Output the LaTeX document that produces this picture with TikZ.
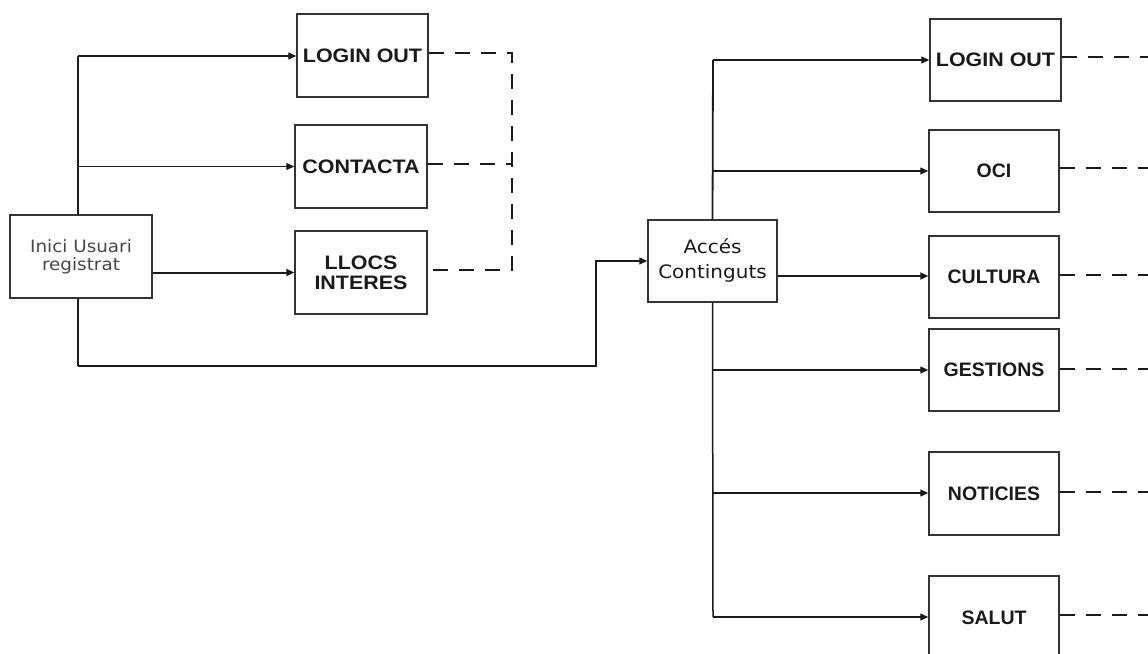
\documentclass[tikz,border=0pt]{standalone}
\usepackage{fontspec}
\usetikzlibrary{arrows.meta}
\newfontfamily\wideboxfont[FakeStretch=1.1]{Liberation Sans}
\newfontfamily\boxfont[FakeStretch=1.0]{Liberation Sans}
\newfontfamily\softfont[FakeStretch=1.08]{DejaVu Sans}
\newfontfamily\accfont[FakeStretch=1.08]{DejaVu Sans}
\definecolor{edge}{HTML}{333333}
\definecolor{ink}{HTML}{1A1A1A}
\tikzset{
  box/.style={draw=edge, line width=1.4pt, fill=white, inner sep=0pt, align=center,
    text=ink, font=\boxfont\bfseries\fontsize{19.5}{20}\selectfont},
  widebox/.style={box, font=\wideboxfont\bfseries\fontsize{19.5}{20}\selectfont},
  link/.style={draw=ink, line width=1.2pt, -{Triangle[length=8pt,width=7pt]}},
  thicklink/.style={link, line width=2pt},
  trunk/.style={draw=ink, line width=1.8pt},
  dashlink/.style={draw=ink, line width=1.2pt, dash pattern=on 15pt off 11pt},
}
\begin{document}
\begin{tikzpicture}[x=1pt,y=-1pt]
\useasboundingbox (0,0) rectangle (1148,653);
\clip (0,0) rectangle (1148,653);
% left group
\node[box, minimum width=142pt, minimum height=83pt, font=\softfont\fontsize{17}{18}\selectfont, text=black!72] (inici) at (81,256.5) {Inici Usuari\\registrat};
\node[widebox, minimum width=131pt, minimum height=83pt] (lo1) at (362.5,55.5) {LOGIN OUT};
\node[widebox, minimum width=132pt, minimum height=83pt] (con) at (361,166.5) {CONTACTA};
\node[widebox, minimum width=132pt, minimum height=83pt] (llo) at (361,272.5) {LLOCS\\INTERES};
% right group
\node[box, minimum width=129pt, minimum height=82pt, font=\accfont\fontsize{18.5}{25}\selectfont] (acc) at (712.5,261) {Accés\\Continguts};
\node[widebox, minimum width=131pt, minimum height=82pt] (lo2) at (995.5,60) {LOGIN OUT};
\node[box, minimum width=130pt, minimum height=82pt] (oci) at (994,171) {OCI};
\node[box, minimum width=130pt, minimum height=82pt] (cul) at (994,277) {CULTURA};
\node[box, minimum width=130pt, minimum height=82pt] (ges) at (994,370) {GESTIONS};
\node[box, minimum width=130pt, minimum height=83pt] (not) at (994,493.5) {NOTICIES};
\node[box, minimum width=130pt, minimum height=83pt] (sal) at (994,617.5) {SALUT};
% left connectors
\coordinate (lt) at (78,56);
\coordinate (lb) at (78,366);
\coordinate (eb) at (596,366);
\coordinate (et) at (596,261);
\draw[trunk] (lt) -- (lt |- inici.north);
\draw[link] (lt) -- (lo1.west |- lt);
\draw[link] (lt |- con.west) -- (con.west);
\draw[thicklink] (inici.east |- llo.west) -- (llo.west);
\draw[trunk] (lt |- inici.south) -- (lb);
\draw[link] (lb) -- (eb) -- (et) -- (acc.west |- et);
% left dashed bracket
\coordinate (dx) at (512,53);
\draw[dashlink] (lo1.east |- dx) -- (dx) -- (dx |- 0,270) -- (llo.east |- 0,270);
\draw[dashlink] (con.east |- 0,164) -- (dx |- 0,164);
% right connectors
\coordinate (rt) at (713,60);
\coordinate (rb) at (713,617);
\draw[trunk] (rt) -- (acc.north);
\draw[link] (rt) -- (lo2.west |- rt);
\draw[link] (rt |- oci.west) -- (oci.west);
\draw[thicklink] (acc.east |- 0,276) -- (cul.west |- 0,276);
\draw[draw=ink, line width=1.5pt] (acc.south) -- (rb);
\draw[link] (rt |- ges.west) -- (ges.west);
\draw[link] (rt |- 0,493) -- (not.west |- 0,493);
\draw[link] (rb) -- (sal.west |- rb);
% right dashed stubs
\coordinate (rx) at (1160,0);
\draw[dashlink] (lo2.east |- 0,57) -- (rx |- 0,57);
\draw[dashlink] (oci.east |- 0,168) -- (rx |- 0,168);
\draw[dashlink] (cul.east |- 0,275) -- (rx |- 0,275);
\draw[dashlink] (ges.east |- 0,369) -- (rx |- 0,369);
\draw[dashlink] (not.east |- 0,492) -- (rx |- 0,492);
\draw[dashlink] (sal.east |- 0,615) -- (rx |- 0,615);
\end{tikzpicture}
\end{document}
